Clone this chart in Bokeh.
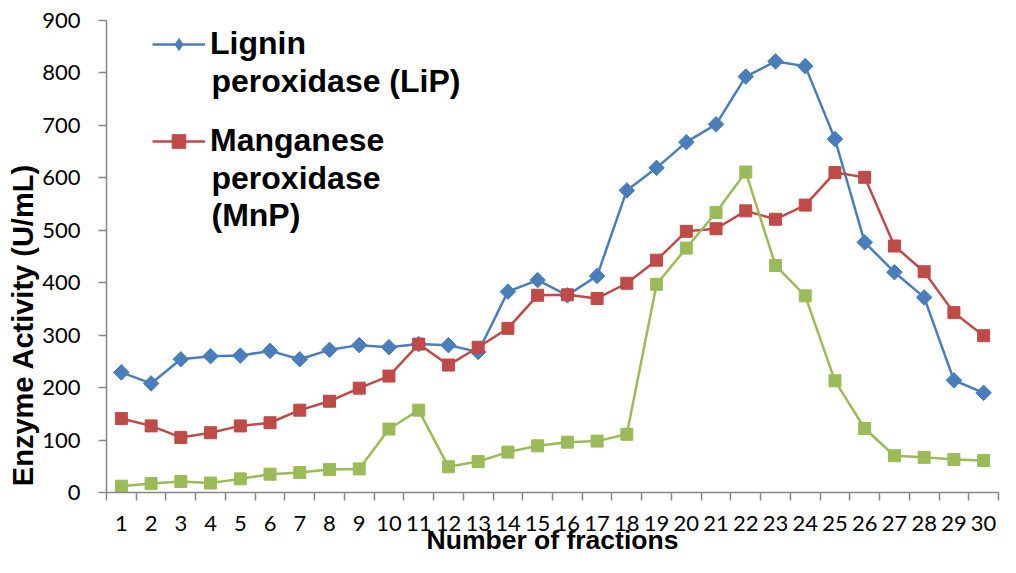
import numpy as np
from bokeh.plotting import figure
from bokeh.models import Range1d, FixedTicker, Legend, LegendItem, Label
from bokeh.embed import file_html
from bokeh.resources import INLINE

fractions = list(range(1, 31))
lip = [229, 208, 254, 260, 261, 270, 254, 272, 281, 277, 283, 281, 268, 383, 405,
       376, 413, 576, 619, 668, 702, 793, 822, 813, 674, 477, 420, 372, 214, 190]
mnp = [141, 127, 105, 114, 127, 133, 157, 174, 199, 222, 283, 243, 277, 313, 376,
       377, 370, 399, 443, 498, 503, 537, 521, 548, 610, 601, 470, 421, 343, 299]
third = [12, 17, 21, 18, 26, 35, 38, 44, 45, 121, 157, 49, 59, 77, 89,
         96, 98, 111, 397, 466, 534, 611, 433, 375, 213, 122, 70, 67, 63, 61]
y_ticks = [0, 100, 200, 300, 400, 500, 600, 700, 800, 900]

BLUE = "#4A7EBB"
RED = "#BE4B48"
GREEN = "#9BBB59"
AXIS = "#868686"

W, H = 1000, 557
TOP = 20
FRAME_BOTTOM = 492  # canvas y of the x axis (set by the axis size below)

p = figure(width=W, height=H, output_backend="svg", toolbar_location=None,
           x_range=Range1d(0.5, 30.5), y_range=Range1d(0, 900),
           min_border_left=106, min_border_right=2, min_border_top=TOP,
           min_border_bottom=40)
p.outline_line_color = None
p.grid.grid_line_color = None

# x axis
xt = FixedTicker(ticks=fractions, minor_ticks=[i + 0.5 for i in range(0, 31)])
p.xaxis.ticker = xt
p.xaxis.major_tick_out = 0
p.xaxis.major_tick_in = 0
p.xaxis.minor_tick_out = 8
p.xaxis.minor_tick_in = 0
p.xaxis.minor_tick_line_color = AXIS
p.xaxis.minor_tick_line_width = 1.5
p.xaxis.axis_line_color = AXIS
p.xaxis.axis_line_width = 1.5
p.xaxis.major_label_text_font = "Lato"
p.xaxis.major_label_text_font_size = "22px"
p.xaxis.major_label_text_color = "#000000"
p.xaxis.major_label_standoff = 15
p.xaxis.axis_label = "Number of fractions"
p.xaxis.axis_label_text_font = "Liberation Sans"
p.xaxis.axis_label_text_font_style = "bold"
p.xaxis.axis_label_text_font_size = "26.5px"
p.xaxis.axis_label_text_color = "#000000"
p.xaxis.axis_label_standoff = -9

# y axis
p.yaxis.ticker = FixedTicker(ticks=y_ticks)
p.yaxis.major_tick_out = 8
p.yaxis.major_tick_in = 0
p.yaxis.minor_tick_out = 0
p.yaxis.minor_tick_in = 0
p.yaxis.major_tick_line_color = AXIS
p.yaxis.major_tick_line_width = 1.5
p.yaxis.axis_line_color = AXIS
p.yaxis.axis_line_width = 1.5
p.yaxis.major_label_text_font = "Lato"
p.yaxis.major_label_text_font_size = "22px"
p.yaxis.major_label_text_color = "#000000"
p.yaxis.major_label_standoff = 18
# the title sits below the middle of the axis in the reference: pad its end
p.yaxis.axis_label = "Enzyme Activity (U/mL)" + "\u00a0" * 17
p.yaxis.axis_label_text_font = "Liberation Sans"
p.yaxis.axis_label_text_font_style = "bold"
p.yaxis.axis_label_text_font_size = "29px"
p.yaxis.axis_label_text_color = "#000000"
p.yaxis.axis_label_standoff = 0

# series
l1 = p.line(fractions, lip, line_color=BLUE, line_width=2.5)
d1 = p.scatter(fractions, lip, marker="diamond", size=12,
               fill_color=BLUE, line_color=BLUE, line_width=0)
m1 = p.scatter(fractions, lip, marker="square", angle=np.pi / 4, size=11,
               fill_color=BLUE, line_color=BLUE)
l2 = p.line(fractions, mnp, line_color=RED, line_width=2.5)
m2 = p.scatter(fractions, mnp, marker="square", size=12,
               fill_color=RED, line_color=RED)
l3 = p.line(fractions, third, line_color=GREEN, line_width=2.5)
m3 = p.scatter(fractions, third, marker="square", size=12,
               fill_color=GREEN, line_color=GREEN)

legend = Legend(items=[
    LegendItem(label="Lignin", renderers=[l1, d1]),
    LegendItem(label="Manganese", renderers=[l2, m2]),
], location=(46, 333))
legend.border_line_color = None
legend.background_fill_alpha = 0
legend.label_text_font = "Liberation Sans"
legend.label_text_font_style = "bold"
legend.label_text_font_size = "32px"
legend.label_text_color = "#000000"
legend.glyph_width = 53
legend.glyph_height = 34
legend.label_height = 36
legend.label_standoff = 5
legend.spacing = 60
legend.padding = 0
legend.margin = 0
p.add_layout(legend)

# continuation lines of the two legend labels (canvas baselines)
extra_lines = [("peroxidase (LiP)", 80), ("peroxidase", 177), ("(MnP)", 214)]
for txt, base in extra_lines:
    p.add_layout(Label(x=105, y=FRAME_BOTTOM - base, x_units="screen",
                       y_units="screen", text=txt, text_font="Liberation Sans",
                       text_font_style="bold", text_font_size="32px",
                       text_color="#000000", text_align="left",
                       text_baseline="alphabetic"))

open("out.html", "w").write(file_html(p, INLINE))
